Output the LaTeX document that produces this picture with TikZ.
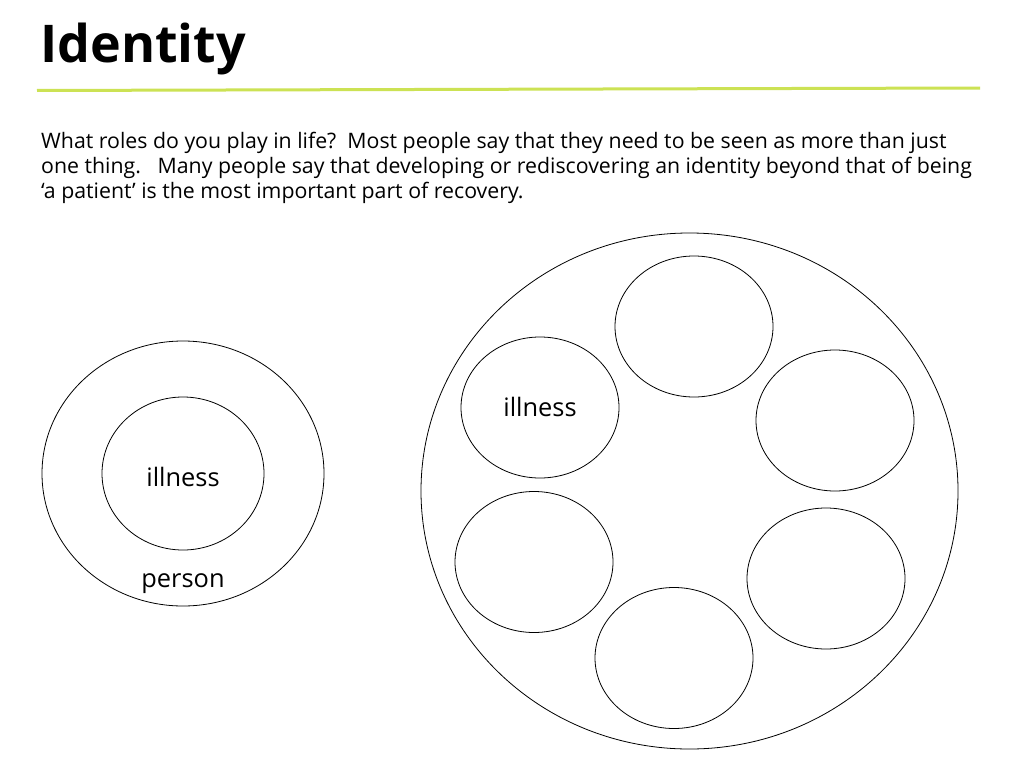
\documentclass[tikz,border=0pt]{standalone}
\usepackage{fontspec}
\setmainfont{Open Sans}
\usetikzlibrary{shapes.geometric}
\definecolor{rule}{RGB}{204,226,84}
\tikzset{
  ring/.style={draw=black, line width=0.8pt, ellipse, inner sep=0pt},
  bodytext/.style={anchor=base west, inner sep=0pt, font=\fontsize{21.3}{25}\selectfont},
  label/.style={anchor=base, inner sep=0pt, font=\fontsize{25.4}{30}\selectfont}
}
\begin{document}
\begin{tikzpicture}[x=1pt,y=-1pt]
\useasboundingbox (0,0) rectangle (1024,768);
\fill[white] (0,0) rectangle (1024,768);
\node[anchor=base west, inner sep=0pt, font=\fontsize{52}{60}\bfseries] (title) at (40,63) {Identity};
\coordinate (ruleL) at (37,90.5);
\coordinate (ruleR) at (980,88);
\draw[rule, line width=3pt] (ruleL) -- (ruleR);
\node[bodytext] (l1) at (41,148) {What roles do you play in life?\ \ Most people say that they need to be seen as more than just};
\node[bodytext] (l2) at (41,173) {one thing.\ \ \ Many people say that developing or rediscovering an identity beyond that of being};
\node[bodytext] (l3) at (41,198) {‘a patient’ is the most important part of recovery.};
% left diagram
\node[ring, minimum width=282pt, minimum height=265pt] (person) at (183,473.5) {};
\node[ring, minimum width=162pt, minimum height=153pt] (ill1) at (183,473.5) {};
\node[label] (ill1lbl) at (183,486) {illness};
\node[label] (personlbl) at (183,587) {person};
% right diagram
\node[ring, minimum width=537pt, minimum height=516pt] (big) at (689.5,491) {};
\node[ring, minimum width=158pt, minimum height=141pt] (c1) at (694,326.5) {};
\node[ring, minimum width=158pt, minimum height=141pt] (c2) at (540,407.5) {};
\node[ring, minimum width=158pt, minimum height=141pt] (c3) at (835,420.5) {};
\node[ring, minimum width=158pt, minimum height=141pt] (c4) at (534,562) {};
\node[ring, minimum width=158pt, minimum height=141pt] (c5) at (826,578.5) {};
\node[ring, minimum width=158pt, minimum height=141pt] (c6) at (674,658) {};
\node[label] (ill2lbl) at (540,416) {illness};
\end{tikzpicture}
\end{document}
